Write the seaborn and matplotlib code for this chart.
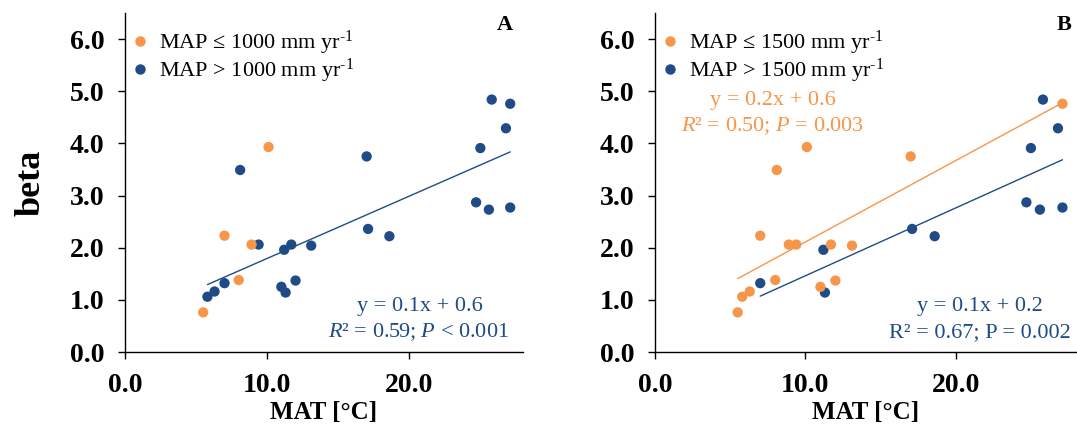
import matplotlib
matplotlib.use("Agg")
import matplotlib.pyplot as plt
import seaborn as sns
import pandas as pd
from matplotlib.lines import Line2D
from matplotlib.ticker import FormatStrFormatter

# ---- data ----
mat = [5.5, 5.8, 6.3, 7.0, 7.0, 8.0, 8.1, 8.9, 9.4, 10.1, 11.0, 11.2, 11.3,
       11.7, 12.0, 13.1, 17.0, 17.1, 18.6, 24.7, 25.0, 25.6, 25.8, 26.8, 27.1, 27.1]
beta = [0.76, 1.06, 1.16, 1.32, 2.23, 1.38, 3.49, 2.06, 2.06, 3.93, 1.25, 1.96, 1.14,
        2.06, 1.37, 2.04, 3.75, 2.36, 2.22, 2.87, 3.91, 2.73, 4.84, 4.29, 4.76, 2.77]
# group membership (True = low MAP group)
low1000 = [True, False, False, False, True, True, False, True, False, True, False, False, False,
           False, False, False, False, False, False, False, False, False, False, False, False, False]
low1500 = [True, True, True, False, True, True, True, True, True, True, True, False, False,
           True, True, True, True, False, False, False, False, False, False, False, True, False]

labels_a = ["MAP \u2264 1000 mm yr$^{\\text{-1}}$", "MAP > 1000 mm yr$^{\\text{-1}}$"]
labels_b = ["MAP \u2264 1500 mm yr$^{\\text{-1}}$", "MAP > 1500 mm yr$^{\\text{-1}}$"]
xticks = [0, 10, 20]
yticks = [0, 1, 2, 3, 4, 5, 6]

ORANGE = "#F7964A"
BLUE = "#1F4B86"
H = 426

sns.set_theme(style="ticks")
plt.rcParams["font.family"] = ["Liberation Serif", "DejaVu Serif"]
plt.rcParams["mathtext.fontset"] = "custom"
plt.rcParams["mathtext.rm"] = "Liberation Serif"
plt.rcParams["mathtext.it"] = "Liberation Serif:italic"
plt.rcParams["mathtext.bf"] = "Liberation Serif:bold"
plt.rcParams["text.color"] = "black"
plt.rcParams["axes.labelcolor"] = "black"

fig = plt.figure(figsize=(10.77, 4.26), dpi=100)
axA = fig.add_axes([125/1077, 1-352/426, 398/1077, 339/426])
axB = fig.add_axes([655/1077, 1-352/426, 421/1077, 339/426])

df = pd.DataFrame({"mat": mat, "beta": beta, "low1000": low1000, "low1500": low1500})

def style_axis(ax):
    ax.set_xlim(0, 28)
    ax.set_ylim(0, 6.5)
    ax.set_xticks(xticks)
    ax.set_yticks(yticks)
    ax.xaxis.set_major_formatter(FormatStrFormatter("%.1f"))
    ax.yaxis.set_major_formatter(FormatStrFormatter("%.1f"))
    for s in ["top", "right"]:
        ax.spines[s].set_visible(False)
    for s in ["left", "bottom"]:
        ax.spines[s].set_color("black")
        ax.spines[s].set_linewidth(1.0)
    ax.tick_params(direction="out", length=5, width=1.0, color="black",
                   labelsize=20, labelcolor="black")
    ax.tick_params(axis="y", pad=10)
    ax.tick_params(axis="x", pad=10)
    for t in ax.get_xticklabels() + ax.get_yticklabels():
        t.set_fontweight("bold")
    ax.set_xlabel("MAT [\u00b0C]", fontsize=18, fontweight="bold", labelpad=2)

def draw(ax, col, labels):
    low = df[df[col]]
    high = df[~df[col]]
    sns.scatterplot(x="mat", y="beta", data=high, ax=ax, color=BLUE, s=55,
                    edgecolor="none", zorder=3, legend=False)
    sns.scatterplot(x="mat", y="beta", data=low, ax=ax, color=ORANGE, s=55,
                    edgecolor="none", zorder=3, legend=False)
    handles = [Line2D([], [], marker="o", linestyle="none", color=ORANGE, markersize=6.5),
               Line2D([], [], marker="o", linestyle="none", color=BLUE, markersize=6.5)]
    ax.legend(handles, labels, loc="upper left", bbox_to_anchor=(-0.018, 0.98),
              frameon=False, fontsize=16, handletextpad=0.25, labelspacing=0.0,
              borderaxespad=0.0, handlelength=1.2)
    return low, high

# Panel A
lowA, highA = draw(axA, "low1000", labels_a)
sns.regplot(x="mat", y="beta", data=highA, ax=axA, scatter=False, ci=None,
            color=BLUE, line_kws={"linewidth": 1.0})
style_axis(axA)
axA.set_ylabel("beta", fontsize=26, fontweight="bold", labelpad=16)
axA.text(0.975, 0.995, "A", transform=axA.transAxes, ha="right", va="top",
         fontsize=16, fontweight="bold")
axA.text(420, H-306, "y = 0.1x + 0.6", transform=None, ha="center", va="center",
         fontsize=16, color=BLUE)
axA.text(418, H-332, "$\\it{R}$\u00b2 = 0.59; $\\it{P}$ < 0.001", transform=None,
         ha="center", va="center", fontsize=16, color=BLUE)

# Panel B
lowB, highB = draw(axB, "low1500", labels_b)
sns.regplot(x="mat", y="beta", data=lowB, ax=axB, scatter=False, ci=None,
            color=ORANGE, line_kws={"linewidth": 1.0})
sns.regplot(x="mat", y="beta", data=highB, ax=axB, scatter=False, ci=None,
            color=BLUE, line_kws={"linewidth": 1.0})
style_axis(axB)
axB.set_ylabel("")
axB.text(0.99, 0.995, "B", transform=axB.transAxes, ha="right", va="top",
         fontsize=16, fontweight="bold")
axB.text(773, H-100, "y = 0.2x + 0.6", transform=None, ha="center", va="center",
         fontsize=16, color=ORANGE)
axB.text(773, H-126, "$\\it{R}$\u00b2 = 0.50; $\\it{P}$ = 0.003", transform=None,
         ha="center", va="center", fontsize=16, color=ORANGE)
axB.text(980, H-307, "y = 0.1x + 0.2", transform=None, ha="center", va="center",
         fontsize=16, color=BLUE)
axB.text(980, H-333, "R\u00b2 = 0.67; P = 0.002", transform=None,
         ha="center", va="center", fontsize=16, color=BLUE)

fig.savefig("out.png", dpi=100)
